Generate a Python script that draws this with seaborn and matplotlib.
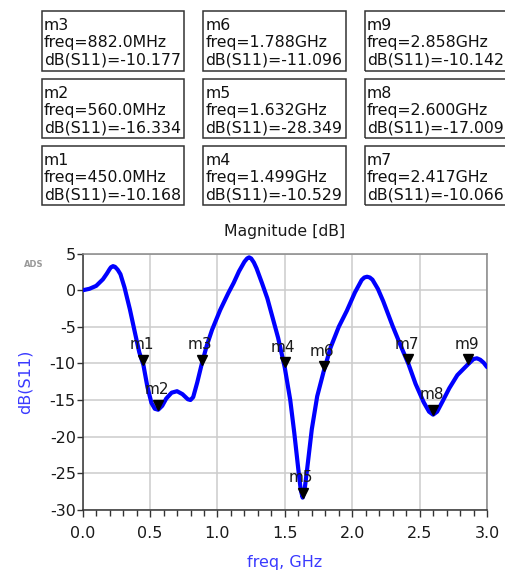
import matplotlib
matplotlib.use("Agg")
import matplotlib.pyplot as plt
import matplotlib.transforms as mtransforms
from matplotlib.patches import Rectangle
import seaborn as sns
import pandas as pd

# ---- data ----
freq_ghz = [0.00, 0.05, 0.10, 0.15, 0.18, 0.20, 0.21, 0.225, 0.24, 0.26, 0.28, 0.31, 0.35, 0.39, 0.42,
            0.45, 0.48, 0.51, 0.535, 0.56, 0.59, 0.62, 0.66, 0.70, 0.74, 0.78, 0.80,
            0.82, 0.85, 0.882, 0.92, 0.96, 1.02, 1.08, 1.12, 1.16, 1.20, 1.22, 1.235, 1.25, 1.27,
            1.29, 1.33, 1.37, 1.41, 1.45, 1.499, 1.54, 1.57, 1.60, 1.618, 1.632, 1.645,
            1.665, 1.70, 1.74, 1.788, 1.84, 1.90, 1.96, 2.02, 2.07, 2.09, 2.11, 2.13, 2.15, 2.19,
            2.23, 2.30, 2.36, 2.417, 2.47, 2.53, 2.57, 2.60, 2.63, 2.67, 2.72, 2.78,
            2.858, 2.90, 2.925, 2.95, 2.975, 3.00]
db_s11 = [0.0, 0.2, 0.6, 1.5, 2.3, 2.9, 3.15, 3.3, 3.2, 2.8, 2.2, 0.4, -2.6, -6.0, -8.5,
          -10.168, -13.2, -15.4, -16.2, -16.334, -15.8, -14.8, -14.0, -13.8, -14.2, -14.9, -15.0,
          -14.6, -12.6, -10.177, -7.6, -5.4, -2.7, -0.4, 1.0, 2.6, 3.9, 4.35, 4.5, 4.35, 3.8,
          3.0, 1.0, -1.1, -3.8, -6.5, -10.529, -15.0, -19.5, -24.5, -27.3, -28.349, -27.5,
          -24.5, -19.0, -14.5, -11.096, -7.8, -5.0, -2.8, -0.3, 1.4, 1.75, 1.85, 1.75, 1.45, 0.2,
          -1.5, -4.9, -7.6, -10.066, -12.8, -15.3, -16.6, -17.009, -16.6, -15.2, -13.4, -11.6,
          -10.142, -9.4, -9.3, -9.5, -9.9, -10.5]

marker_names = ["m1", "m2", "m3", "m4", "m5", "m6", "m7", "m8", "m9"]
marker_freq = [0.450, 0.560, 0.882, 1.499, 1.632, 1.788, 2.417, 2.600, 2.858]
marker_db = [-10.168, -16.334, -10.177, -10.529, -28.349, -11.096, -10.066, -17.009, -10.142]
marker_freq_text = ["450.0MHz", "560.0MHz", "882.0MHz", "1.499GHz", "1.632GHz",
                    "1.788GHz", "2.417GHz", "2.600GHz", "2.858GHz"]

# box grid order (rows top->bottom, cols left->right)
box_grid = [["m3", "m6", "m9"],
            ["m2", "m5", "m8"],
            ["m1", "m4", "m7"]]

x_ticks = [0.0, 0.5, 1.0, 1.5, 2.0, 2.5, 3.0]
y_ticks = [5, 0, -5, -10, -15, -20, -25, -30]

# ---- figure ----
sns.set_style("white")
plt.rcParams["font.family"] = ["DejaVu Sans"]

W, H = 505, 573
fig = plt.figure(figsize=(W / 100, H / 100), dpi=100)
fig.patch.set_facecolor("white")

ax_l, ax_r, ax_t, ax_b = 82.7, 487.0, 253.7, 509.7
ax = fig.add_axes([ax_l / W, 1 - ax_b / H, (ax_r - ax_l) / W, (ax_b - ax_t) / H])

df = pd.DataFrame({"freq": freq_ghz, "db": db_s11})
sns.lineplot(data=df, x="freq", y="db", ax=ax, color="#0000ff", lw=3.0, sort=False, zorder=3)

ax.set_xlim(0, 3)
ax.set_ylim(-30, 5)
ax.set_xticks(x_ticks)
ax.set_xticklabels([f"{v:.1f}" for v in x_ticks])
ax.set_xticks([i / 10 for i in range(31)], minor=True)
ax.set_yticks(y_ticks)
ax.set_yticklabels([str(v) for v in y_ticks])

ax.grid(True, which="major", color="#cccccc", lw=1.1, zorder=0)
ax.grid(False, which="minor")
ax.tick_params(axis="x", which="major", direction="out", length=5, width=1.0,
               color="#333333", labelsize=11.5, labelcolor="#1a1a1a", pad=7, bottom=True)
ax.tick_params(axis="x", which="minor", direction="out", length=4, width=1.0,
               color="#333333", bottom=True)
ax.tick_params(axis="y", which="major", direction="out", length=4, width=1.0,
               color="#333333", labelsize=11.5, labelcolor="#1a1a1a", pad=1, left=True)

for side in ["left", "bottom"]:
    ax.spines[side].set_color("#333333")
    ax.spines[side].set_linewidth(1.1)
for side in ["top", "right"]:
    ax.spines[side].set_color("#888888")
    ax.spines[side].set_linewidth(1.1)

ax.set_xlabel("freq, GHz", color="#3a3aff", fontsize=11.5, labelpad=10)
ax.set_ylabel("dB(S11)", color="#3a3aff", fontsize=11.5, labelpad=12)
ax.set_title("Magnitude [dB]", fontsize=11.3, color="#1a1a1a", pad=13)

# markers: triangle tip on the curve, label above
tri_trans = mtransforms.offset_copy(ax.transData, fig=fig, x=0, y=3.6, units="points")
ax.plot(marker_freq, marker_db, linestyle="none", marker="v", ms=7.5,
        color="black", transform=tri_trans, zorder=4, clip_on=False)
for name, f, d in zip(marker_names, marker_freq, marker_db):
    ax.annotate(name, xy=(f, d), xytext=(-1, 11), textcoords="offset points",
                ha="center", va="baseline", fontsize=11, color="#1a1a1a", zorder=5)

fig.text(24 / W, 1 - 267 / H, "ADS", fontsize=6, color="#999999", fontweight="bold")

# marker readout boxes
col_x = [41.7, 203.3, 365.0]
box_w = 142.5
row_y = [10.7, 79.0, 145.7]
box_h = [60.0, 58.5, 59.3]
lookup = {n: (fq, d) for n, fq, d in zip(marker_names, marker_freq_text, marker_db)}
for r, row in enumerate(box_grid):
    for c, name in enumerate(row):
        x0, y0 = col_x[c], row_y[r]
        rect = Rectangle((x0 / W, 1 - (y0 + box_h[r]) / H), box_w / W, box_h[r] / H,
                         transform=fig.transFigure, fill=False, edgecolor="#333333",
                         lw=1.1, clip_on=False)
        fig.add_artist(rect)
        fq, d = lookup[name]
        lines = [name, f"freq={fq}", f"dB(S11)={d:.3f}"]
        for k, txt in enumerate(lines):
            fig.text((x0 + 2) / W, 1 - (y0 + 19.3 + 17.2 * k) / H, txt,
                     fontsize=11.3, color="#111111", va="baseline", ha="left")

fig.savefig("out.png", dpi=100)
